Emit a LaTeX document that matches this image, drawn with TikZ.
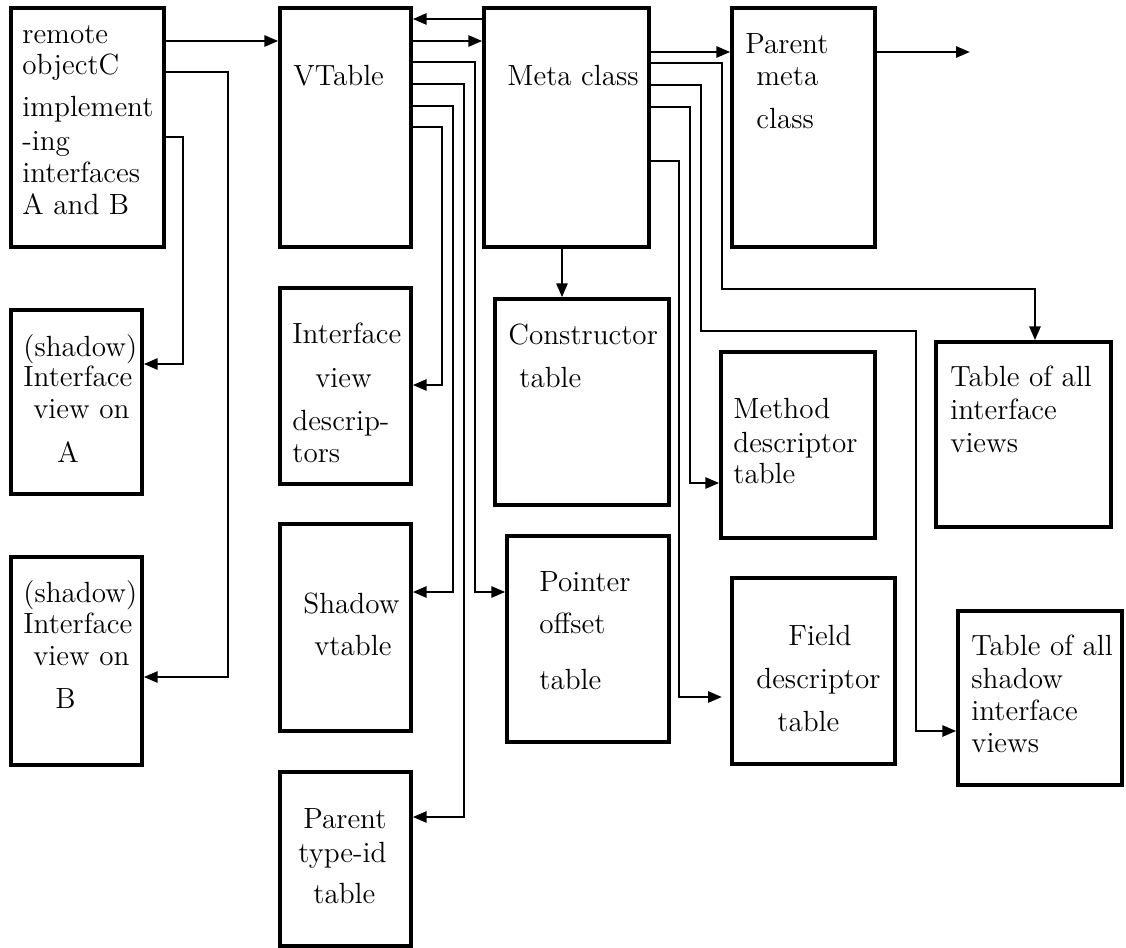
\documentclass[tikz,border=0pt]{standalone}
\usetikzlibrary{arrows.meta}
\begin{document}
\begin{tikzpicture}[x=0.5pt,y=-0.5pt,
  box/.style={draw, line width=1.7pt, inner sep=0pt, rectangle},
  conn/.style={line width=1.4pt, -{Triangle[length=7pt,width=5.5pt]}},
  lbl/.style={anchor=base west, inner sep=0pt, font=\fontsize{14.6}{17}\selectfont}]
\useasboundingbox (0,0) rectangle (1126,948);
% boxes
\node[box, minimum width=76.5pt, minimum height=119.5pt] (remote) at (87.5,127.5) {};
\node[box, minimum width=65.5pt, minimum height=119.5pt] (vt) at (345.5,127.5) {};
\node[box, minimum width=82.5pt, minimum height=119.5pt] (meta) at (566.5,127.5) {};
\node[box, minimum width=71.5pt, minimum height=119.5pt] (pmeta) at (803.5,127.5) {};
\node[box, minimum width=65.5pt, minimum height=92pt] (shA) at (76.5,402) {};
\node[box, minimum width=65.5pt, minimum height=104pt] (shB) at (76.5,661) {};
\node[box, minimum width=65.5pt, minimum height=98pt] (ivd) at (345.5,386) {};
\node[box, minimum width=65.5pt, minimum height=103.5pt] (svt) at (345.5,627.5) {};
\node[box, minimum width=65.5pt, minimum height=87pt] (ptid) at (345.5,859) {};
\node[box, minimum width=87pt, minimum height=103pt] (ctor) at (582,402) {};
\node[box, minimum width=81pt, minimum height=103pt] (ptr) at (588,639) {};
\node[box, minimum width=77pt, minimum height=93pt] (mdt) at (798,445) {};
\node[box, minimum width=81.5pt, minimum height=93pt] (fdt) at (813.5,671) {};
\node[box, minimum width=87.5pt, minimum height=92.5pt] (tiv) at (1023.5,434.5) {};
\node[box, minimum width=82pt, minimum height=87pt] (tsiv) at (1040,698) {};
% texts
\node[lbl] (r1) at (22,43) {remote};
\node[lbl] (r2) at (22,74) {objectC};
\node[lbl] (r3) at (22,116) {implement};
\node[lbl] (r4) at (22,150) {-ing};
\node[lbl] (r5) at (22,182) {interfaces};
\node[lbl] (r6) at (22,214) {A and B};
\node[lbl] (v1) at (293,85) {VTable};
\node[lbl] (m1) at (507,85) {Meta class};
\node[lbl] (p1) at (745,53) {Parent};
\node[lbl] (p2) at (756,85) {meta};
\node[lbl] (p3) at (756,128) {class};
\node[lbl] (a1) at (23,356) {(shadow)};
\node[lbl] (a2) at (23,386) {Interface};
\node[lbl] (a3) at (33,418) {view on};
\node[lbl] (a4) at (57,462) {A};
\node[lbl] (b1) at (23,602) {(shadow)};
\node[lbl] (b2) at (23,633) {Interface};
\node[lbl] (b3) at (33,665) {view on};
\node[lbl] (b4) at (55,708) {B};
\node[lbl] (i1) at (292,343) {Interface};
\node[lbl] (i2) at (315,387) {view};
\node[lbl] (i3) at (292,430) {descrip-};
\node[lbl] (i4) at (292,462) {tors};
\node[lbl] (s1) at (303,613) {Shadow};
\node[lbl] (s2) at (314,655) {vtable};
\node[lbl] (y1) at (303,828) {Parent};
\node[lbl] (y2) at (298,862) {type-id};
\node[lbl] (y3) at (313,903) {table};
\node[lbl] (c1) at (508,344) {Constructor};
\node[lbl] (c2) at (519,387) {table};
\node[lbl] (o1) at (539,591) {Pointer};
\node[lbl] (o2) at (539,633) {offset};
\node[lbl] (o3) at (539,689) {table};
\node[lbl] (d1) at (733,418) {Method};
\node[lbl] (d2) at (733,452) {descriptor};
\node[lbl] (d3) at (733,483) {table};
\node[lbl] (f1) at (788,645) {Field};
\node[lbl] (f2) at (756,688) {descriptor};
\node[lbl] (f3) at (777,731) {table};
\node[lbl] (g1) at (950,386) {Table of all};
\node[lbl] (g2) at (950,419) {interface};
\node[lbl] (g3) at (950,452) {views};
\node[lbl] (h1) at (971,655) {Table of all};
\node[lbl] (h2) at (971,688) {shadow};
\node[lbl] (h3) at (971,720) {interface};
\node[lbl] (h4) at (971,752) {views};
% free ends
\coordinate (fdtend) at (722,697);
\coordinate (pmend) at (970,52);
% connectors
\draw[conn] (remote.east |- 0,41) -- (vt.west |- 0,41);
\draw[conn] (remote.east |- 0,72) -- (228,72) -- (228,677) -- (shB.east |- 0,677);
\draw[conn] (remote.east |- 0,137) -- (183,137) -- (183,364) -- (shA.east |- 0,364);
\draw[conn] (meta.west |- 0,19) -- (vt.east |- 0,19);
\draw[conn] (vt.east |- 0,41) -- (meta.west |- 0,41);
\draw[conn] (vt.east |- 0,62) -- (475,62) -- (475,592) -- (ptr.west |- 0,592);
\draw[conn] (vt.east |- 0,84) -- (464,84) -- (464,817) -- (ptid.east |- 0,817);
\draw[conn] (vt.east |- 0,106) -- (453,106) -- (453,592) -- (svt.east |- 0,592);
\draw[conn] (vt.east |- 0,127) -- (442,127) -- (442,385) -- (ivd.east |- 0,385);
\draw[conn] (meta.south -| 562,0) -- (ctor.north -| 562,0);
\draw[conn] (meta.east |- 0,52) -- (pmeta.west |- 0,52);
\draw[conn] (meta.east |- 0,63) -- (722,63) -- (722,289) -- (1035,289) -- (tiv.north -| 1035,0);
\draw[conn] (meta.east |- 0,85) -- (701,85) -- (701,331) -- (916,331) -- (916,731) -- (tsiv.west |- 0,731);
\draw[conn] (meta.east |- 0,107) -- (690,107) -- (690,483) -- (mdt.west |- 0,483);
\draw[conn] (meta.east |- 0,161) -- (679,161) -- (679,697) -- (fdtend);
\draw[conn] (pmeta.east |- 0,52) -- (pmend);
\end{tikzpicture}
\end{document}
